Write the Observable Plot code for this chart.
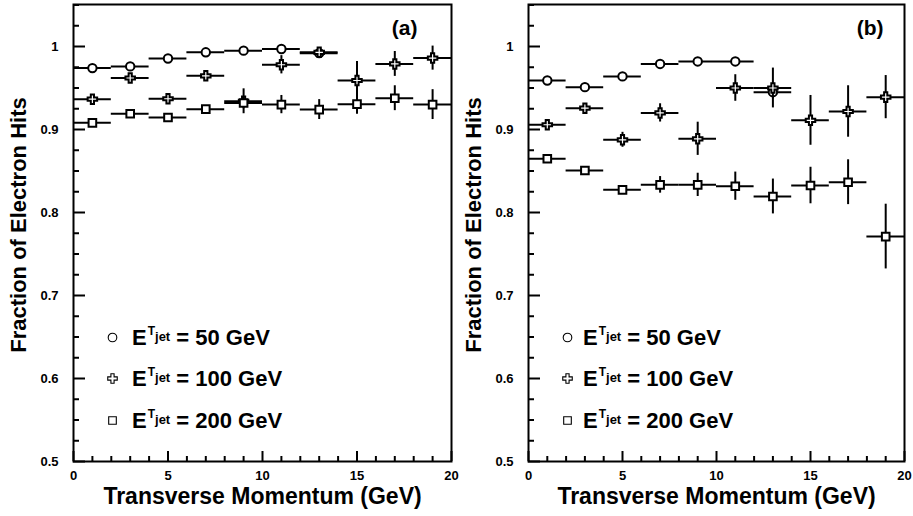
<!DOCTYPE html>
<html><head><meta charset="utf-8">
<script src="https://cdn.jsdelivr.net/npm/d3@7"></script>
<script src="https://cdn.jsdelivr.net/npm/@observablehq/plot@0.6"></script>
<style>
body{margin:0;background:#fff;}
#wrap{position:relative;width:913px;height:516px;display:flex;font-family:"Liberation Sans",Arial,sans-serif;font-weight:bold;background:#fff;}
.leg{position:absolute;font-size:22px;line-height:20px;white-space:nowrap;color:#000;}
.leg .t{font-size:12px;position:relative;top:-10px;margin-left:1px;}
.leg .j{font-size:13px;position:relative;top:-4px;}
</style></head><body><div id="wrap"></div>
<script>
// bin centres (GeV) and half bin width
const pt = [1, 3, 5, 7, 9, 11, 13, 15, 17, 19];
const binHalf = 1;

// panel (a)
const a50 = [0.974, 0.976, 0.9855, 0.993, 0.995, 0.997, 0.992];
const a50err = [0.002, 0.002, 0.002, 0.002, 0.002, 0.002, 0.002];
const a100 = [0.9365, 0.962, 0.937, 0.9647, 0.934, 0.978, 0.993, 0.959, 0.979, 0.986];
const a100err = [0.004, 0.005, 0.004, 0.005, 0.015, 0.011, 0.004, 0.023, 0.015, 0.0145];
const a200 = [0.908, 0.919, 0.9145, 0.9245, 0.932, 0.930, 0.924, 0.9305, 0.9377, 0.930];
const a200err = [0.003, 0.003, 0.003, 0.004, 0.007, 0.011, 0.012, 0.012, 0.015, 0.018];

// panel (b)
const b50 = [0.959, 0.951, 0.964, 0.979, 0.982, 0.982, 0.945];
const b50err = [0.003, 0.003, 0.003, 0.003, 0.003, 0.003, 0.008];
const b100 = [0.9057, 0.9257, 0.8876, 0.920, 0.8888, 0.950, 0.950, 0.911, 0.9217, 0.939];
const b100err = [0.004, 0.005, 0.009, 0.011, 0.020, 0.016, 0.024, 0.030, 0.031, 0.026];
const b200 = [0.8647, 0.8506, 0.8273, 0.8333, 0.8333, 0.8317, 0.8193, 0.8325, 0.8365, 0.771];
const b200err = [0.003, 0.003, 0.005, 0.010, 0.014, 0.017, 0.021, 0.022, 0.027, 0.039];

// axes
const xDomain = [0, 20];
const yDomain = [0.5, 1.0506];
const xMajor = [0, 5, 10, 15, 20];
const xMinor = [1, 2, 3, 4, 6, 7, 8, 9, 11, 12, 13, 14, 16, 17, 18, 19];
const yMajor = [0.5, 0.6, 0.7, 0.8, 0.9, 1.0];
const yMinor = [0.525, 0.55, 0.575, 0.625, 0.65, 0.675, 0.725, 0.75, 0.775, 0.825, 0.85, 0.875, 0.925, 0.95, 0.975, 1.025, 1.05];
const legendLabels = ["50", "100", "200"];
const symbols = ["circle", "cross", "square"];
const radii = [4.2, 4.0, 4.3];

const rows = (vals, errs) => vals.map((v, i) => ({x: pt[i], v, e: errs[i]}));

const H = 516, MT = 4, MB = 55;

function panel({sets, tag, width, marginLeft, marginRight, tagDx}) {
  const fw = width - marginLeft - marginRight;
  const fh = H - MT - MB;
  // tick lengths in pixels converted to data units of each scale
  const xu = px => px * (xDomain[1] - xDomain[0]) / fw;
  const yu = px => px * (yDomain[1] - yDomain[0]) / fh;
  const marks = [
    // inward ticks
    Plot.ruleY(yMinor, {y: d => d, x1: xDomain[0], x2: xDomain[0] + xu(6), stroke: "black", strokeWidth: 2}),
    Plot.ruleY(yMajor, {y: d => d, x1: xDomain[0], x2: xDomain[0] + xu(12), stroke: "black", strokeWidth: 2}),
    Plot.ruleX(xMinor, {x: d => d, y1: yDomain[0], y2: yDomain[0] + yu(5), stroke: "black", strokeWidth: 2}),
    Plot.ruleX(xMajor, {x: d => d, y1: yDomain[0], y2: yDomain[0] + yu(10), stroke: "black", strokeWidth: 2})
  ];
  sets.forEach((data, k) => {
    marks.push(Plot.ruleY(data, {y: "v", x1: d => d.x - binHalf, x2: d => d.x + binHalf, stroke: "black", strokeWidth: 2}));
    marks.push(Plot.ruleX(data, {x: "x", y1: d => d.v - d.e, y2: d => d.v + d.e, stroke: "black", strokeWidth: 2}));
    marks.push(Plot.dot(data, {x: "x", y: "v", symbol: symbols[k], r: radii[k], fill: "white", stroke: "black", strokeWidth: 2}));
  });
  // legend symbols
  [333, 374, 416].forEach((dy, k) => {
    marks.push(Plot.dot([0], {frameAnchor: "top-left", dx: 39, dy, symbol: symbols[k], r: k === 1 ? 4 : 4.3, fill: "white", stroke: "black", strokeWidth: 1.1}));
  });
  marks.push(
    Plot.axisY(yMajor, {tickSize: 0, tickPadding: 15, tickFormat: d => String(+d.toFixed(2)), fontSize: 13, fontWeight: "bold", label: null}),
    Plot.axisX(xMajor, {tickSize: 0, tickPadding: 9, fontSize: 13, fontWeight: "bold", label: null}),
    Plot.frame({stroke: "black", strokeWidth: 2}),
    Plot.text([tag], {frameAnchor: "top-right", textAnchor: "end", lineAnchor: "middle", dx: tagDx, dy: 24, fontSize: 21, fontWeight: "bold"}),
    Plot.text(["Transverse Momentum (GeV)"], {frameAnchor: "bottom", textAnchor: "middle", lineAnchor: "bottom", dy: 42, fontSize: 23, fontWeight: "bold"}),
    Plot.text(["Fraction of Electron Hits"], {frameAnchor: "left", textAnchor: "middle", rotate: -90, lineAnchor: "middle", dx: -55, dy: -8, fontSize: 22, fontWeight: "bold"})
  );
  return Plot.plot({
    width, height: H,
    marginLeft, marginRight, marginTop: MT, marginBottom: MB,
    x: {domain: xDomain, label: null},
    y: {domain: yDomain, label: null},
    style: {fontFamily: "'Liberation Sans', Arial, sans-serif", background: "transparent", overflow: "visible", color: "black"},
    marks
  });
}

const wrap = document.getElementById("wrap");
wrap.append(panel({sets: [rows(a50, a50err), rows(a100, a100err), rows(a200, a200err)], tag: "(a)", width: 456, marginLeft: 73, marginRight: 5, tagDx: -34}));
wrap.append(panel({sets: [rows(b50, b50err), rows(b100, b100err), rows(b200, b200err)], tag: "(b)", width: 457, marginLeft: 72, marginRight: 9, tagDx: -21}));

// legend labels (HTML overlay with superscript T and "jet")
[132, 583].forEach(left => {
  [345, 386, 428].forEach((base, k) => {
    const div = document.createElement("div");
    div.className = "leg";
    div.style.left = left + "px";
    div.style.top = (base - 17) + "px";
    div.innerHTML = `E<span class="t">T</span><span class="j">jet</span> = ${legendLabels[k]} GeV`;
    wrap.append(div);
  });
});
</script></body></html>
